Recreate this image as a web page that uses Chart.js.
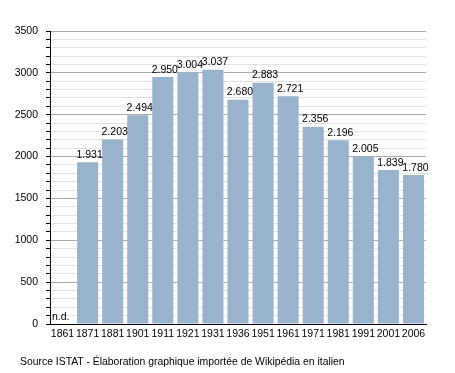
<!DOCTYPE html>
<html>
<head>
<meta charset="utf-8">
<script src="https://cdn.jsdelivr.net/npm/chart.js@4/dist/chart.umd.min.js"></script>
<style>
    body { margin: 0; background: #fff; }
    .wrap { position: relative; width: 455px; height: 373px; }
    #source {
        position: absolute; left: 20px; top: 356px;
        font: 10.4px "Liberation Sans", Arial, sans-serif; color: #000;
        white-space: nowrap;
    }
</style>
</head>
<body>
<div class="wrap">
    <canvas id="chart" width="455" height="373"></canvas>
    <div id="source">Source ISTAT - Élaboration graphique importée de Wikipédia en italien</div>
</div>
<script>
const years = ["1861","1871","1881","1901","1911","1921","1931","1936","1951","1961","1971","1981","1991","2001","2006"];
const population = [null,1931,2203,2494,2950,3004,3037,2680,2883,2721,2356,2196,2005,1839,1780];

const FONT = "'Liberation Sans', Arial, sans-serif";

// thousands with a dot, like the italian original
function fmt(v) {
    return String(v).replace(/\B(?=(\d{3})+(?!\d))/g, ".");
}

const valueLabels = {
    id: "valueLabels",
    afterDatasetsDraw(chart) {
        const ctx = chart.ctx;
        const meta = chart.getDatasetMeta(0);
        const y0 = chart.scales.y.getPixelForValue(0);
        ctx.save();
        ctx.font = "10.5px " + FONT;
        ctx.fillStyle = "#000";
        meta.data.forEach((bar, i) => {
            const v = population[i];
            if (v === null) {
                ctx.textAlign = "left";
                ctx.textBaseline = "bottom";
                ctx.fillText("n.d.", chart.chartArea.left + 2, y0 - 2);
                return;
            }
            ctx.textAlign = "center";
            ctx.textBaseline = "bottom";
            ctx.fillText(fmt(v), bar.x + 2, bar.y - 2);
        });
        ctx.restore();
    }
};

new Chart(document.getElementById("chart"), {
    type: "bar",
    data: {
        labels: years,
        datasets: [{
            data: population,
            backgroundColor: "#9ab3cd",
            borderWidth: 0,
            barPercentage: 0.84,
            categoryPercentage: 1
        }]
    },
    options: {
        responsive: false,
        animation: false,
        layout: { padding: { top: 31, right: 29, left: 0, bottom: 0 } },
        plugins: { legend: { display: false }, tooltip: { enabled: false } },
        scales: {
            x: {
                afterFit(scale) { scale.height = 49; },
                grid: { display: false, drawTicks: false },
                border: { color: "#000", width: 1 },
                ticks: {
                    color: "#000",
                    padding: 4,
                    maxRotation: 0,
                    autoSkip: false,
                    font: { family: FONT, size: 10.5 }
                }
            },
            y: {
                min: 0,
                max: 3500,
                afterFit(scale) { scale.width = 50; },
                border: { color: "#000", width: 1 },
                grid: {
                    color: c => c.tick.value % 500 === 0 ? "#aaaaaa" : "#e2e2e2",
                    tickColor: "#000",
                    tickLength: 4
                },
                ticks: {
                    stepSize: 100,
                    autoSkip: false,
                    color: "#000",
                    padding: 8,
                    font: { family: FONT, size: 10.5 },
                    callback: v => v % 500 === 0 ? String(v) : ""
                }
            }
        }
    },
    plugins: [valueLabels]
});
</script>
</body>
</html>
